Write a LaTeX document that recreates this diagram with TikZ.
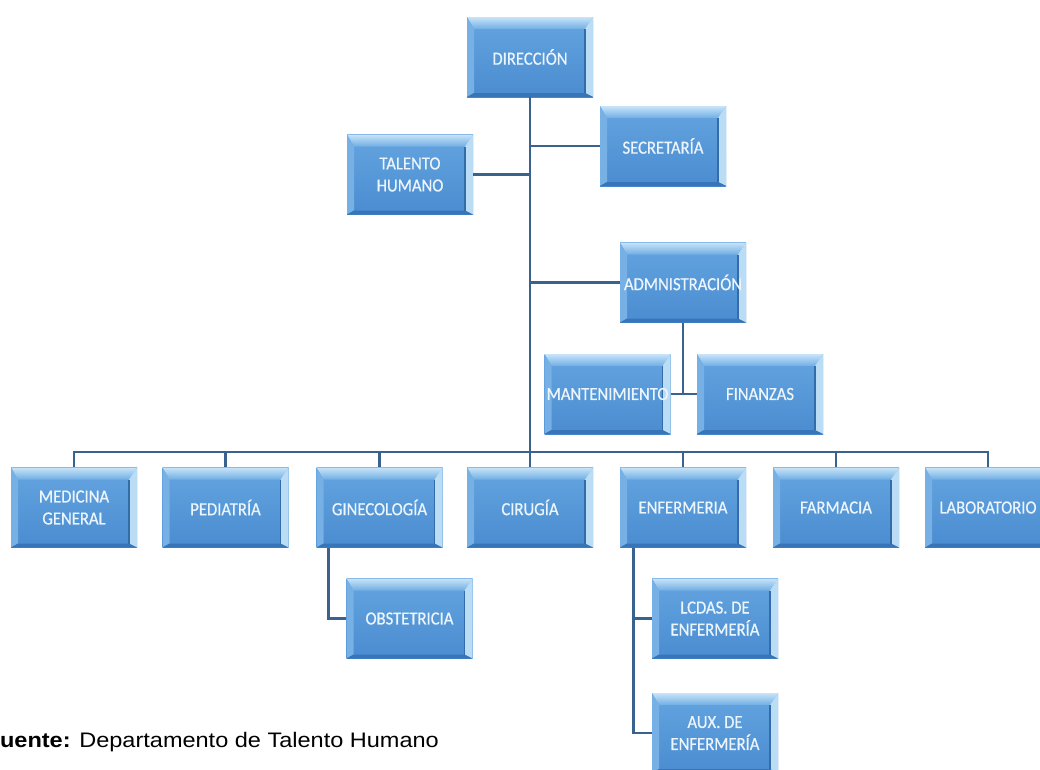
\documentclass[tikz,border=0pt]{standalone}
\usepackage{fontspec}
\setmainfont{Liberation Sans}
\newfontfamily\carl[FakeStretch=0.9,FakeBold=0.6]{Carlito}
\newfontfamily\footfont[FakeStretch=1.12]{Liberation Sans}
\usetikzlibrary{calc}
\definecolor{facetop}{RGB}{100,164,224}
\definecolor{facebot}{RGB}{74,140,208}
\definecolor{bevtopA}{RGB}{200,228,249}
\definecolor{bevtopB}{RGB}{112,174,228}
\definecolor{bevleftc}{RGB}{118,176,228}
\definecolor{bevrightc}{RGB}{186,220,244}
\definecolor{bevrightd}{RGB}{52,108,170}
\definecolor{bevbotc}{RGB}{56,116,184}
\definecolor{connc}{RGB}{58,98,142}
\definecolor{txtc}{RGB}{236,245,252}
\tikzset{
  orgbox/.style={rectangle, minimum width=126pt, minimum height=80pt, inner sep=1pt,
    text=txtc, font=\carl\fontsize{18.5}{22}\selectfont, align=center,
    top color=facetop, bottom color=facebot,
    path picture={
      \coordinate (NW) at (path picture bounding box.north west);
      \coordinate (NE) at (path picture bounding box.north east);
      \coordinate (SW) at (path picture bounding box.south west);
      \coordinate (SE) at (path picture bounding box.south east);
      \shade[top color=bevtopA, bottom color=bevtopB] (NW) -- (NE) -- ([xshift=-8pt,yshift=-12pt]NE) -- ([xshift=7pt,yshift=-12pt]NW) -- cycle;
      \fill[bevleftc] (NW) -- ([xshift=7pt,yshift=-12pt]NW) -- ([xshift=7pt,yshift=4pt]SW) -- (SW) -- cycle;
      \fill[bevrightc] (NE) -- (SE) -- ([xshift=-8pt,yshift=4pt]SE) -- ([xshift=-8pt,yshift=-12pt]NE) -- cycle;
      \draw[bevrightd, line width=1.2pt] ([xshift=-8pt,yshift=-12pt]NE) -- ([xshift=-8pt,yshift=4pt]SE);
      \fill[bevbotc] (SW) -- ([xshift=7pt,yshift=4pt]SW) -- ([xshift=-8pt,yshift=4pt]SE) -- (SE) -- cycle;
    }},
  conn/.style={draw=connc, line width=2.8pt, line join=miter}
}
\begin{document}
\begin{tikzpicture}[x=1pt,y=-1pt]
\useasboundingbox (0,0) rectangle (1040,769);
\clip (0,0) rectangle (1040,769);
\fill[white] (0,0) rectangle (1040,769);
\coordinate (bus) at (0,452);

\node[orgbox] (dir) at (530,57) {DIRECCIÓN};
\node[orgbox] (th) at (410,174.5) {TALENTO\\HUMANO};
\node[orgbox] (sec) at (663,146) {SECRETARÍA};
\node[orgbox] (adm) at (683,282.5) {ADMNISTRACIÓN};
\node[orgbox] (mant) at (607.5,394) {MANTENIMIENTO};
\node[orgbox] (fin) at (760,394) {FINANZAS};
\node[orgbox] (med) at (74,507.5) {MEDICINA\\GENERAL};
\node[orgbox] (ped) at (225.5,507.5) {PEDIATRÍA};
\node[orgbox] (gin) at (379.5,507.5) {GINECOLOGÍA};
\node[orgbox] (cir) at (530,507.5) {CIRUGÍA};
\node[orgbox] (enf) at (683,507.5) {ENFERMERIA};
\node[orgbox] (far) at (836,507.5) {FARMACIA};
\node[orgbox] (lab) at (988,507.5) {LABORATORIO};
\node[orgbox] (obs) at (409.5,618.5) {OBSTETRICIA};
\node[orgbox] (lcd) at (715,618.5) {LCDAS. DE\\ENFERMERÍA};
\node[orgbox] (aux) at (715,733) {AUX. DE\\ENFERMERÍA};

\draw[conn] (dir.south) -- (dir.south |- bus);
\draw[conn] (th.east) -- (th.east -| dir.south);
\draw[conn] (sec.west) -- (sec.west -| dir.south);
\draw[conn] (adm.west) -- (adm.west -| dir.south);
\draw[conn] (adm.south) -- (adm.south |- mant.east);
\draw[conn] (mant.east) -- (fin.west);
\draw[conn] (med.north) -- (med.north |- bus) -- (lab.north |- bus) -- (lab.north);
\draw[conn] (ped.north) -- (ped.north |- bus);
\draw[conn] (gin.north) -- (gin.north |- bus);
\draw[conn] (cir.north) -- (cir.north |- bus);
\draw[conn] (enf.north) -- (enf.north |- bus);
\draw[conn] (far.north) -- (far.north |- bus);
\draw[conn] ([xshift=12pt]gin.south west) |- (obs.west);
\draw[conn] ([xshift=14pt]enf.south west) |- (lcd.west);
\draw[conn] ([xshift=14pt]enf.south west) |- (aux.west);

\node[anchor=base west, inner sep=0pt, font=\footfont\fontsize{21}{25}\selectfont] (src) at (-14.5,747) {\textbf{Fuente:} Departamento de Talento Humano};
\end{tikzpicture}
\end{document}
